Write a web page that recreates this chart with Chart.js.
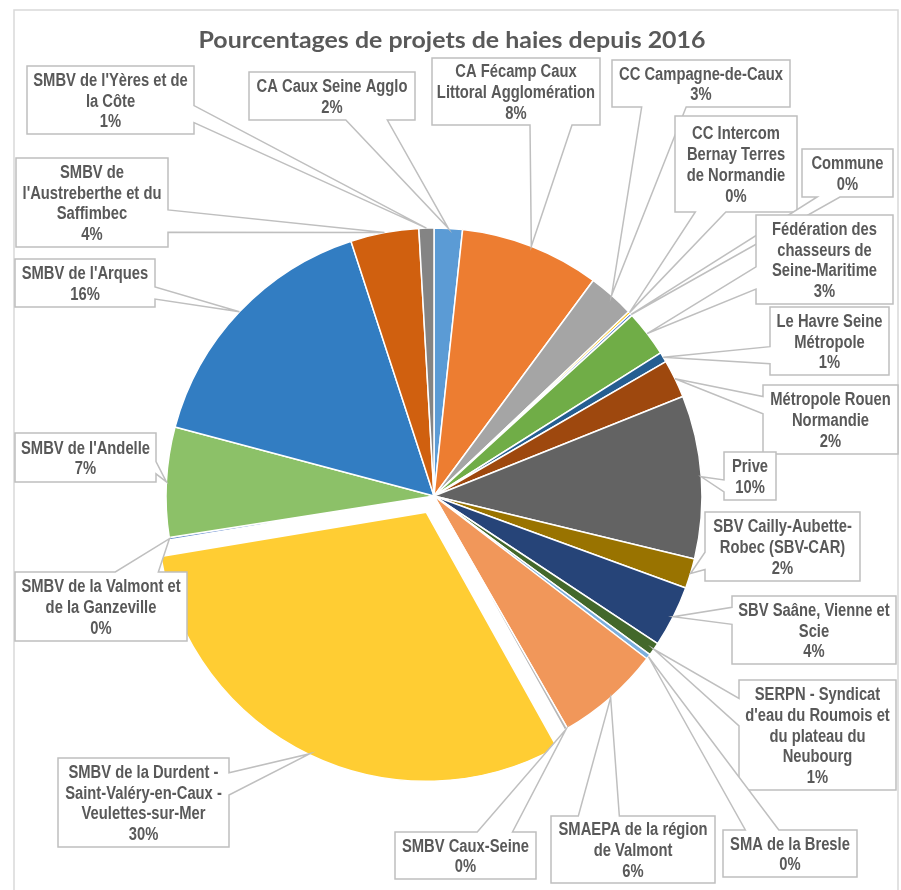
<!DOCTYPE html>
<html><head><meta charset="utf-8">
<script src="https://cdn.jsdelivr.net/npm/chart.js@4.4.1/dist/chart.umd.min.js"></script>
<style>html,body{margin:0;padding:0;background:#fff}canvas{display:block}</style>
</head><body>
<canvas id="c" width="901" height="890"></canvas>
<script>
// ---- data ----
const chartTitle = 'Pourcentages de projets de haies depuis 2016';
const categories = [
  'CA Caux Seine Agglo',
  'CA Fécamp Caux Littoral Agglomération',
  'CC Campagne-de-Caux',
  'CC Intercom Bernay Terres de Normandie',
  'Commune',
  'Fédération des chasseurs de Seine-Maritime',
  'Le Havre Seine Métropole',
  'Métropole Rouen Normandie',
  'Prive',
  'SBV Cailly-Aubette-Robec (SBV-CAR)',
  'SBV Saâne, Vienne et Scie',
  'SERPN - Syndicat d\'eau du Roumois et du plateau du Neubourg',
  'SMA de la Bresle',
  'SMAEPA de la région de Valmont',
  'SMBV Caux-Seine',
  'SMBV de la Durdent - Saint-Valéry-en-Caux - Veulettes-sur-Mer',
  'SMBV de la Valmont et de la Ganzeville',
  'SMBV de l\'Andelle',
  'SMBV de l\'Arques',
  'SMBV de l\'Austreberthe et du Saffimbec',
  'SMBV de l\'Yères et de la Côte'
];
const shares = [1.7, 8.4, 2.8, 0.15, 0.15, 2.8, 0.6, 2.3, 9.8, 1.8, 3.7, 0.8, 0.3, 6.3, 0.2, 30.4, 0.15, 6.6, 15.8, 4.1, 0.9];

// ---- styles / layout ----
const sliceColors = ['#5B9BD5','#ED7D31','#A5A5A5','#FFC000','#4472C4','#70AD47',
  '#255E91','#9E480E','#636363','#997300','#264478','#43682B',
  '#7CAFDD','#F1975A','#B7B7B7','#FFCD33','#698ED0','#8CC168',
  '#327DC2','#D0600F','#848484'];
const sliceOffsets = [0,0,0,0,0,0,0,0,0,0,0,0,0,0,0,72,0,0,0,0,0];
// callout boxes [left, top, width, height]
const labelBoxes = [
  [249, 72, 166, 48],
  [432, 58, 168, 67],
  [612, 60, 178, 47],
  [675, 116, 122, 96],
  [802, 149, 91, 48],
  [756, 215, 137, 89],
  [770, 307, 119, 68],
  [763, 385, 135, 69],
  [724, 452, 52, 48],
  [705, 512, 155, 69],
  [732, 596, 164, 68],
  [739, 680, 157, 110],
  [723, 830, 134, 47],
  [551, 816, 164, 67],
  [395, 832, 141, 47],
  [58, 758, 171, 89],
  [15, 572, 172, 69],
  [15, 433, 141, 49],
  [15, 259, 140, 48],
  [16, 158, 152, 89],
  [27, 66, 167, 68]
];

function hasFont(name){
  const c = document.createElement('canvas').getContext('2d');
  const s = 'abcdefghijklmnopqrstuvwxyzABCDEFGHIJKLM';
  c.font = 'bold 40px monospace'; const a = c.measureText(s).width;
  c.font = 'bold 40px "' + name + '", monospace'; const b = c.measureText(s).width;
  return Math.abs(a - b) > 0.5;
}
const NARROW = hasFont('Liberation Sans Narrow');
const LABEL_FONT = NARROW ? 'bold 18px "Liberation Sans Narrow"' : 'bold 18px "Liberation Sans", Arial, sans-serif';
const SX = NARROW ? 1 : 0.82;
const LINE_H = 20.7;
const TEXT_COLOR = '#595959';

function tw(ctx, s){ return ctx.measureText(s).width * SX; }
function wrap(ctx, text, maxW){
  const words = text.split(' ');
  const tokens = [];
  words.forEach((w, wi) => {
    const parts = w.split(/(?<=-)(?=.)/);
    parts.forEach((p, pi) => tokens.push({t: p, sp: pi === parts.length - 1 && wi < words.length - 1}));
  });
  const lines = []; let cur = '';
  tokens.forEach(tok => {
    const cand = cur + tok.t;
    if (cur.trim() && tw(ctx, cand.trimEnd()) > maxW) { lines.push(cur.trimEnd()); cur = tok.t; }
    else cur = cand;
    if (tok.sp) cur += ' ';
  });
  if (cur.trim()) lines.push(cur.trimEnd());
  return lines;
}

function drawCallout(ctx, l, t, w, h, tip){
  const r = l + w, b = t + h, hc = l + w / 2, vc = t + h / 2;
  const dxPos = tip.x - hc, dyPos = tip.y - vc;
  const dq = dxPos * h / w;
  const dz = Math.abs(dyPos) - Math.abs(dq);
  const x1 = l + w * (dxPos > 0 ? 7 : 2) / 12, x2 = l + w * (dxPos > 0 ? 10 : 5) / 12;
  const y1 = t + h * (dyPos > 0 ? 7 : 2) / 12, y2 = t + h * (dyPos > 0 ? 10 : 5) / 12;
  ctx.beginPath();
  ctx.moveTo(l, t);
  if (dz > 0 && dyPos < 0) { ctx.lineTo(x1, t); ctx.lineTo(tip.x, tip.y); ctx.lineTo(x2, t); }
  ctx.lineTo(r, t);
  if (dz <= 0 && dxPos > 0) { ctx.lineTo(r, y1); ctx.lineTo(tip.x, tip.y); ctx.lineTo(r, y2); }
  ctx.lineTo(r, b);
  if (dz > 0 && dyPos >= 0) { ctx.lineTo(x2, b); ctx.lineTo(tip.x, tip.y); ctx.lineTo(x1, b); }
  ctx.lineTo(l, b);
  if (dz <= 0 && dxPos <= 0) { ctx.lineTo(l, y2); ctx.lineTo(tip.x, tip.y); ctx.lineTo(l, y1); }
  ctx.closePath();
  ctx.fillStyle = '#ffffff'; ctx.fill();
  ctx.strokeStyle = '#BFBFBF'; ctx.lineWidth = 1.5; ctx.lineJoin = 'miter'; ctx.stroke();
}

const calloutPlugin = {
  id: 'callouts',
  beforeDraw(chart){
    const ctx = chart.ctx;
    ctx.save();
    ctx.fillStyle = '#fff'; ctx.fillRect(0, 0, chart.width, chart.height);
    ctx.strokeStyle = '#D9D9D9'; ctx.lineWidth = 1.5;
    ctx.strokeRect(14, 10, 884, 900);
    ctx.restore();
  },
  afterDatasetsDraw(chart){
    const ctx = chart.ctx;
    const meta = chart.getDatasetMeta(0);
    const total = shares.reduce((a, b) => a + b, 0);
    ctx.save();
    ctx.font = LABEL_FONT;
    meta.data.forEach((arc, i) => {
      const p = arc.getProps(['x', 'y', 'startAngle', 'endAngle', 'outerRadius'], true);
      const mid = (p.startAngle + p.endAngle) / 2;
      const off = (arc.options.offset || 0) / 4;
      const rr = p.outerRadius + off;
      const tip = {x: p.x + Math.cos(mid) * rr, y: p.y + Math.sin(mid) * rr};
      const [bx, by, bw, bh] = labelBoxes[i];
      drawCallout(ctx, bx, by, bw, bh, tip);
      const lines = wrap(ctx, categories[i], bw - 4);
      lines.push(Math.round(shares[i] / total * 100) + '%');
      const n = lines.length;
      ctx.fillStyle = TEXT_COLOR;
      ctx.textAlign = 'center';
      ctx.textBaseline = 'alphabetic';
      const cx = bx + bw / 2, cy = by + bh / 2;
      lines.forEach((ln, k) => {
        const base = cy + (k - (n - 1) / 2) * LINE_H + 6.5;
        ctx.save();
        ctx.translate(cx, base);
        ctx.scale(SX, 1);
        ctx.fillText(ln, 0, 0);
        ctx.restore();
      });
    });
    ctx.restore();
  },
  afterDraw(chart){
    const ctx = chart.ctx;
    ctx.save();
    ctx.font = 'bold 23px Lato, "Open Sans", sans-serif';
    ctx.fillStyle = TEXT_COLOR;
    ctx.textAlign = 'center';
    ctx.textBaseline = 'alphabetic';
    const w = ctx.measureText(chartTitle).width;
    const s = 507 / w;
    ctx.translate(452, 48);
    ctx.scale(s, 1);
    ctx.fillText(chartTitle, 0, 0);
    ctx.restore();
  }
};

new Chart(document.getElementById('c'), {
  type: 'pie',
  data: {
    labels: categories,
    datasets: [{
      data: shares,
      backgroundColor: sliceColors,
      borderColor: '#ffffff',
      borderWidth: 1.5,
      offset: sliceOffsets,
      clip: false
    }]
  },
  options: {
    responsive: false,
    animation: false,
    devicePixelRatio: 1,
    radius: 268,
    layout: { padding: { left: 0, right: 33, top: 102, bottom: 0 } },
    events: [],
    plugins: { legend: { display: false }, tooltip: { enabled: false }, title: { display: false } }
  },
  plugins: [calloutPlugin]
});
</script>
</body></html>
